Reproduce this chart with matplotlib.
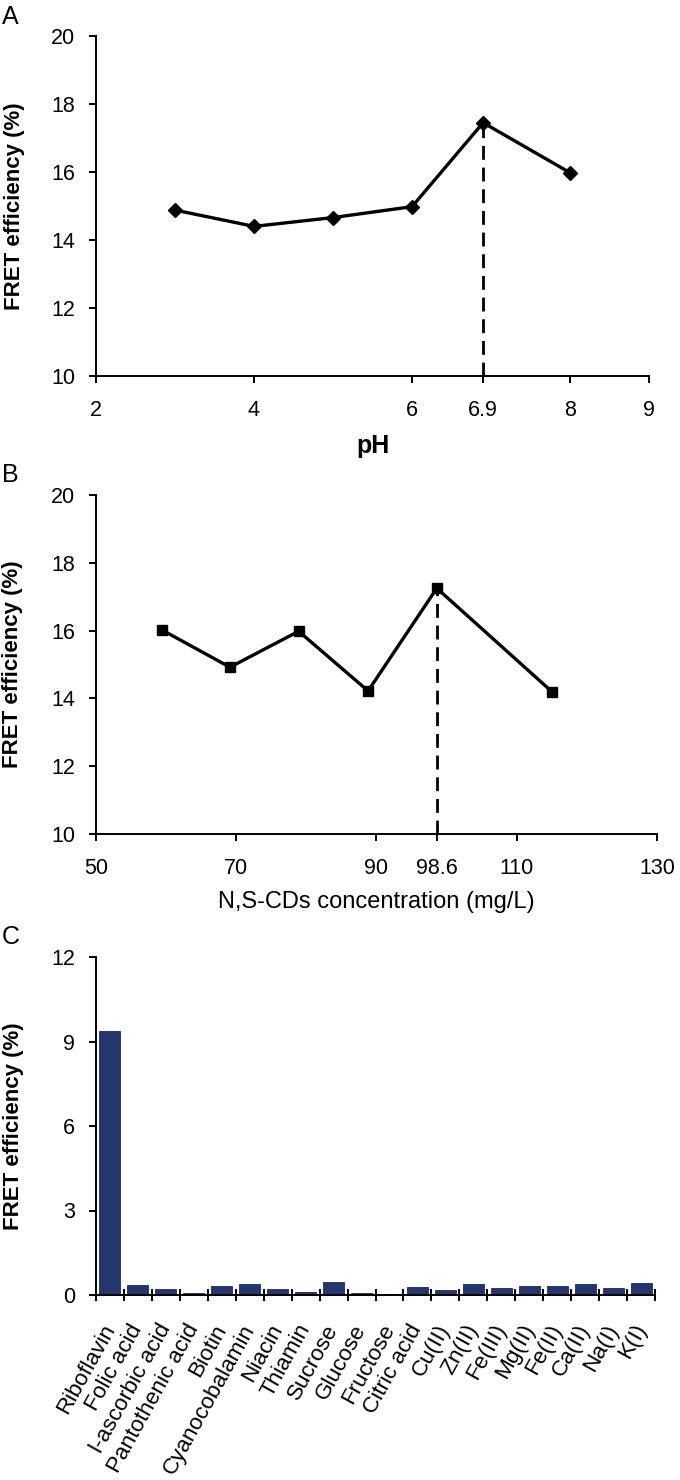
import matplotlib
matplotlib.use("Agg")
import matplotlib.pyplot as plt
import numpy as np

# panel A: pH effect
ph = [3, 4, 5, 6, 6.9, 8]
fret_ph = [14.88, 14.4, 14.66, 14.98, 17.45, 15.98]
ph_ticks = [2, 4, 6, 6.9, 8, 9]
ph_tick_labels = ["2", "4", "6", "6.9", "8", "9"]

# panel B: N,S-CDs concentration effect
conc = [59.4, 69.1, 78.9, 88.8, 98.6, 115.0]
fret_conc = [16.02, 14.92, 15.98, 14.22, 17.25, 14.2]
conc_ticks = [50, 70, 90, 98.6, 110, 130]
conc_tick_labels = ["50", "70", "90", "98.6", "110", "130"]

# panel C: selectivity
species = ["Riboflavin", "Folic acid", "l-ascorbic acid", "Pantothenic acid", "Biotin",
           "Cyanocobalamin", "Niacin", "Thiamin", "Sucrose", "Glucose", "Fructose",
           "Citric acid", "Cu(II)", "Zn(II)", "Fe(III)", "Mg(II)", "Fe(II)", "Ca(II)",
           "Na(I)", "K(I)"]
fret_species = [9.37, 0.37, 0.2, 0.08, 0.33, 0.39, 0.21, 0.1, 0.46, 0.08, 0.03,
                0.28, 0.17, 0.39, 0.24, 0.33, 0.33, 0.39, 0.24, 0.43]

plt.rcParams["font.family"] = ["Liberation Sans", "DejaVu Sans"]
plt.rcParams["axes.linewidth"] = 1.4

W, H = 680, 1480
TICK_FS = 15.5
Y_LABEL = "FRET efficiency (%)"


def box(left, top, right, bottom):
    return [left / W, 1 - bottom / H, (right - left) / W, (bottom - top) / H]


def style_axes(ax):
    ax.patch.set_alpha(0)
    for s in ["top", "right"]:
        ax.spines[s].set_visible(False)
    ax.tick_params(axis="both", direction="out", length=5, width=1.4, labelsize=TICK_FS)
    ax.tick_params(axis="y", pad=10)
    ax.set_ylabel(Y_LABEL, fontsize=16, fontweight="bold", va="center")
    ax.yaxis.set_label_coords(-0.148, 0.5)


def line_panel(ax, x, y, marker, ticks, tick_labels, xlim, xlabel, xlabel_y, bold_x):
    ax.plot(x, y, color="black", lw=2.4, marker=marker, ms=7, zorder=3, clip_on=False)
    peak = int(np.argmax(y))
    ax.vlines(x[peak], 10, y[peak], colors="black", linestyles=(0, (5, 2.8)), lw=2, zorder=2)
    ax.set_xlim(*xlim)
    ax.set_ylim(10, 20)
    ax.set_yticks([10, 12, 14, 16, 18, 20])
    ax.set_xticks(ticks)
    ax.set_xticklabels(tick_labels)
    style_axes(ax)
    ax.tick_params(axis="x", pad=12)
    ax.set_xlabel(xlabel, fontsize=18 if bold_x else 17,
                  fontweight="bold" if bold_x else "normal", va="top")
    ax.xaxis.set_label_coords(0.5, xlabel_y)


fig = plt.figure(figsize=(W / 100, H / 100), dpi=100)

ax_a = fig.add_axes(box(96, 36, 649, 376))
line_panel(ax_a, ph, fret_ph, "D", ph_ticks, ph_tick_labels, (2, 9), "pH", -0.17, True)

ax_b = fig.add_axes(box(96, 495, 657, 834))
line_panel(ax_b, conc, fret_conc, "s", conc_ticks, conc_tick_labels, (50, 130),
           "N,S-CDs concentration (mg/L)", -0.168, False)

ax_c = fig.add_axes(box(96, 957, 655, 1295))
pos = np.arange(len(species))
ax_c.bar(pos, fret_species, width=0.75, color="#24366e", edgecolor="#1c2a5a", lw=0.6, zorder=2)
ax_c.set_xlim(-0.5, len(species) - 0.5)
ax_c.set_ylim(0, 12)
ax_c.set_yticks([0, 3, 6, 9, 12])
ax_c.set_xticks(np.arange(-0.5, len(species), 1))
ax_c.set_xticklabels([])
ax_c.set_xticks(pos, minor=True)
ax_c.set_xticklabels(species, minor=True, rotation=61, ha="right", va="center",
                     rotation_mode="anchor", fontsize=16.2)
style_axes(ax_c)
# category ticks sit between the bars and cross the axis line
ax_c.tick_params(axis="x", which="major", direction="inout", length=9)
ax_c.tick_params(axis="x", which="minor", length=0, pad=22)

for letter, y in [("A", 17), ("B", 475), ("C", 937)]:
    fig.text(2 / W, 1 - y / H, letter, fontsize=18, ha="left", va="center")

fig.savefig("out.png", dpi=100)
